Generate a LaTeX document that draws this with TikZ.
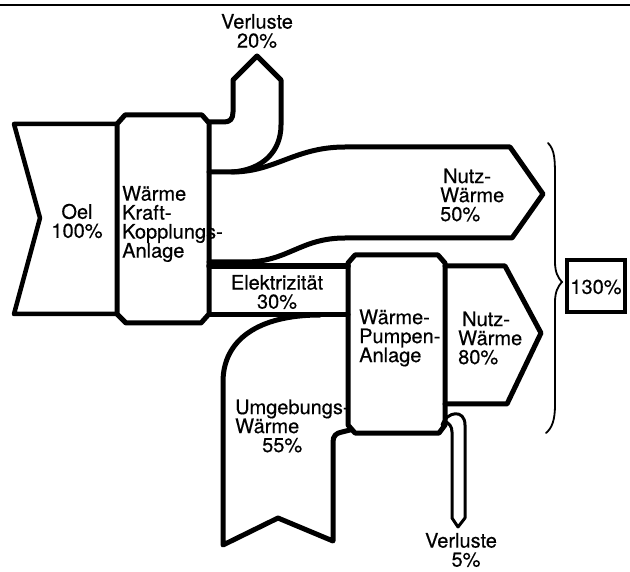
\documentclass[tikz,border=0pt]{standalone}
\usepackage{fontspec}
\setmainfont{TeX Gyre Heros}
\begin{document}
\begin{tikzpicture}[x=1pt,y=-1pt,
  flow/.style={line width=5pt,line join=round,line cap=round},
  lossline/.style={line width=3pt,line join=round,line cap=round},
  lbl/.style={inner sep=0pt,font=\fontsize{20}{19}\selectfont\addfontfeature{FakeBold=0.4}}]
\useasboundingbox (0,0) rectangle (630,572);
\fill[white] (0,0) rectangle (630,572);
\draw[line width=2.5pt] (0,5) -- (630,5);
% Oel
\draw[flow,line width=4.5pt] (117,124) -- (14,124) -- (40,218) -- (14,314) -- (117,314);
% Kraft-Kopplungs-Anlage
\draw[flow] (117,124) -- (125,115) -- (202,115) -- (209,123) -- (209,314) -- (201,323) -- (126,323) -- (117,314) -- cycle;
% Verluste 20%
\draw[flow] (209,122) -- (224,122) .. controls (230,122) and (233,119) .. (233,112) -- (233,80) -- (257,56) -- (281,80) -- (281,125) .. controls (281,152) and (262,170) .. (232,172);
% Nutzwaerme 50%
\draw[flow] (209,172) -- (232,172) .. controls (275,172) and (295,147) .. (345,147) -- (510,147) -- (543,194) -- (512,238) -- (345,238) .. controls (300,238) and (288,262) .. (245,262) -- (209,262);
% Elektrizitaet
\draw[flow,line width=5.5pt] (209,266) -- (348,266);
\draw[flow] (209,315) -- (348,315);
% Waermepumpe
\draw[flow] (348,263) -- (355,255) -- (438,255) -- (445,263) -- (445,425) -- (439,433) -- (355,433) -- (348,425) -- cycle;
% Nutzwaerme 80%
\draw[flow] (445,266) -- (505,266) -- (541,333) -- (507,404) -- (445,404);
% Umgebungswaerme
\draw[flow] (320,315) .. controls (258,315) and (223,340) .. (223,382) -- (223,545) -- (278,518) -- (333,541) -- (333,442) .. controls (333,436) and (336,433) .. (342,432) -- (350,430);
% Verluste 5%
\draw[lossline] (442,425) .. controls (447,411) and (465,409) .. (465,425) -- (465,518) -- (458,527) -- (452,518) -- (452,432) .. controls (452,426) and (449,423) .. (444,421);
% brace
\draw[line width=1.8pt,line cap=round] (548,143) .. controls (555,150) and (555,160) .. (555,180) -- (555,262) .. controls (555,272) and (558,278) .. (562,282) .. controls (558,286) and (555,292) .. (555,302) -- (555,405) .. controls (555,420) and (552,428) .. (546,433);
% 130% box
\draw[line width=3.5pt] (567,260) rectangle (625,312);
% labels
\node[lbl,align=center] (v20) at (257,31) {Verluste\\20\%};
\node[lbl,align=center] (oel) at (77,221) {Oel\\100\%};
\node[lbl,align=left,anchor=west] (kwk) at (122,224) {Wärme\\Kraft-\\Kopplungs-\\Anlage};
\node[lbl,align=left,anchor=west] (nw50) at (440,195) {\hspace*{3pt}Nutz-\\Wärme\\50\%};
\node[lbl,align=center] (el) at (277,292) {Elektrizität\\30\%};
\node[lbl,align=left,anchor=west] (wp) at (359,338) {Wärme-\\Pumpen-\\Anlage};
\node[lbl,align=left,anchor=west] (nw80) at (458,338) {\hspace*{4pt}Nutz-\\Wärme\\80\%};
\node[lbl,align=left,anchor=west] (ug) at (235,426) {Umgebungs-\\Wärme\\\hspace*{27pt}55\%};
\node[lbl,align=center] (v5) at (461,550) {Verluste\\\hspace*{10pt}5\%};
\node[lbl] (total) at (596,287) {130\%};
\end{tikzpicture}
\end{document}
